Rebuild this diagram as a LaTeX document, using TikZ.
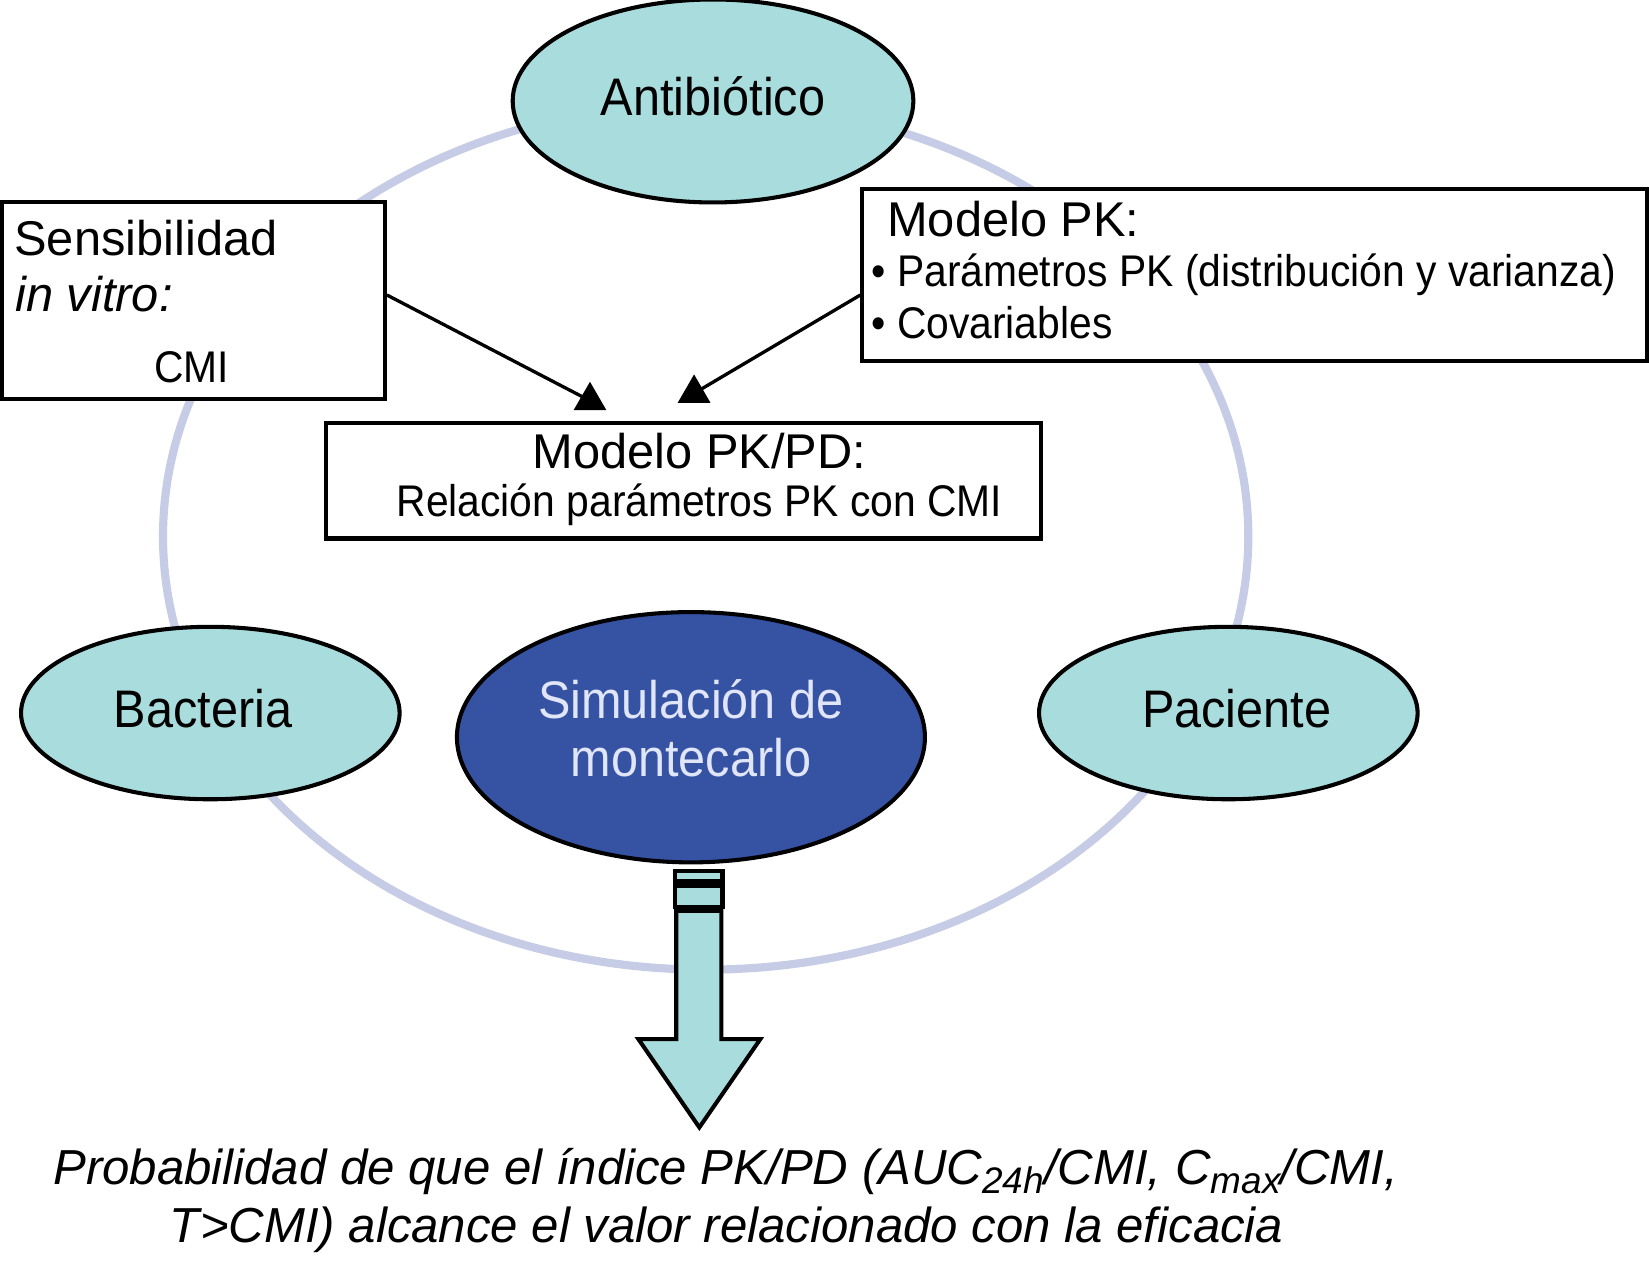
\documentclass[tikz,border=0pt]{standalone}
\usepackage{fontspec}
\setmainfont{Liberation Sans}
\newfontfamily\narrowsans{Liberation Sans}[FakeStretch=0.92]
\usetikzlibrary{shapes.geometric,positioning}
\definecolor{cellfill}{RGB}{169,220,221}
\definecolor{simblue}{RGB}{53,82,163}
\definecolor{simtext}{RGB}{224,229,248}
\definecolor{ringblue}{RGB}{198,203,230}
\newcommand{\lowtext}[1]{\raisebox{-0.35ex}{\fontsize{10}{10}\selectfont #1}}

\begin{document}
\begin{tikzpicture}[x=0.1mm,y=-0.1mm,
   cell/.style={ellipse,draw,line width=1.1pt,fill=cellfill,inner sep=0pt,
                text height=2.8mm,text depth=0mm,
                font=\narrowsans\fontsize{14.3}{15.6}\selectfont},
   infobox/.style={draw,line width=1.1pt,fill=white,inner sep=0pt},
   big/.style={font=\fontsize{13.2}{15}\selectfont,inner sep=0pt},
   small/.style={font=\narrowsans\fontsize{12}{14}\selectfont,inner sep=0pt},
   simlabel/.style={font=\narrowsans\fontsize{14.3}{15.6}\selectfont,text=simtext,inner sep=0pt},
   head/.style={regular polygon,regular polygon sides=3,fill=black,
                inner sep=0pt,minimum size=3.6mm},
   link/.style={line width=0.9pt},
   blockarrow/.style={draw,line width=1.1pt,fill=cellfill,line join=miter}]
   \useasboundingbox (0,0) rectangle (1568,1204);
   % ring behind everything
   \draw[ringblue,line width=2.2pt] (671,510) ellipse [x radius=51.6mm,y radius=41.2mm];

   % boxes
   \node[infobox,minimum width=36.4mm,minimum height=18.7mm] (sens) at (184,285.5) {};
   \node[infobox,minimum width=74.6mm,minimum height=16.3mm] (pk) at (1193,261.5) {};
   \node[infobox,minimum width=68mm,minimum height=11mm] (pkpd) at (650,457) {};

   \node[big,anchor=base west] (sensA) at (13,243) {Sensibilidad};
   \node[big,anchor=base west] (sensB) at (14,296) {\itshape in vitro:};
   \node[small,anchor=base] (sensC) at (182,364) {CMI};

   \node[big,anchor=base west] (pkA) at (843,225) {Modelo PK:};
   \node[small,anchor=base west] (pkB) at (828,272) {• Parámetros PK (distribución y varianza)};
   \node[small,anchor=base west] (pkC) at (828,322) {• Covariables};

   \node[big,anchor=base] (pkpdA) at (665,445) {Modelo PK/PD:};
   \node[small,anchor=base] (pkpdB) at (665,491) {Relación parámetros PK con CMI};

   % arrows into the PK/PD box
   \node[head] (tipL) at (561,381) {};
   \node[head] (tipR) at (660,374) {};
   \draw[link] ([yshift=0.5mm]sens.east) -- (tipL.center);
   \draw[link] ([yshift=-1.9mm]pk.west) -- (tipR.center);

   % ellipses
   \node[cell,minimum width=38.1mm,minimum height=19.3mm] (anti) at (678,96) {Antibiótico};
   \node[cell,minimum width=36mm,minimum height=16.4mm] (bact) at (200,678) {\hspace*{-1.4mm}Bacteria};
   \node[cell,minimum width=36mm,minimum height=16.4mm] (pac) at (1168,678) {Paciente\hspace*{-1.6mm}};
   \node[cell,fill=simblue,minimum width=44.5mm,minimum height=23.8mm] (sim) at (657,701) {};
   \node[simlabel,anchor=base] (simA) at (657,683) {Simulación de};
   \node[simlabel,anchor=base] (simB) at (657,738) {montecarlo};

   % block arrow to the result
   \draw[blockarrow] (642,828) rectangle (687,838);
   \draw[blockarrow] (642,842) rectangle (687,862);
   \draw[blockarrow] (643,866) -- (686,866) -- (686,988) -- (723,988)
      -- (665,1072) -- (607,988) -- (643,988) -- cycle;

   \node[big,anchor=base,font=\fontsize{13.3}{15}\selectfont\itshape] (resA) at (690,1126)
      {Probabilidad de que el índice PK/PD (AUC\lowtext{24h}/CMI, C\lowtext{max}/CMI,};
   \node[big,anchor=base,font=\fontsize{13.3}{15}\selectfont\itshape] (resB) at (691,1181)
      {T>CMI) alcance el valor relacionado con la eficacia};
\end{tikzpicture}
\end{document}
